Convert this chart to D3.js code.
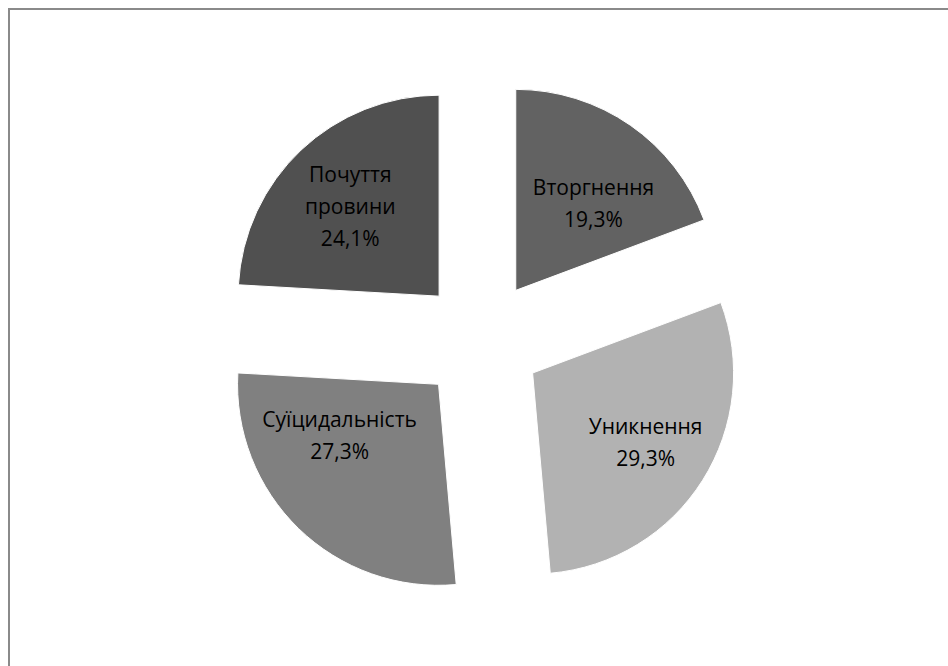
<!DOCTYPE html>
<html>
<head>
<meta charset="utf-8">
<script src="https://cdn.jsdelivr.net/npm/d3@7"></script>
<style>
html,body{margin:0;padding:0;background:#fff;}
svg{display:block;}
</style>
</head>
<body>
<svg id="chart" width="948" height="666"></svg>
<script>
const categories = ["Вторгнення", "Уникнення", "Суїцидальність", "Почуття провини"];
const labelLines = [["Вторгнення"], ["Уникнення"], ["Суїцидальність"], ["Почуття", "провини"]];
const values = [19.3, 29.3, 27.3, 24.1];
const colors = ["#626262", "#b2b2b2", "#808080", "#505050"];

const svg = d3.select("#chart");
const W = 948, H = 666;

// chart frame (only top and left edges fall inside the view)
svg.append("path")
  .attr("d", `M9,${H+5} L9,9 L${W+5},9`)
  .attr("fill", "none")
  .attr("stroke", "#8a8a8a")
  .attr("stroke-width", 2);

const cx = 481, cy = 340.5, R = 201, explode = 61;

const pie = d3.pie().sort(null).value(d => d);
const arcs = pie(values);
const arc = d3.arc().innerRadius(0).outerRadius(R);
const labelArc = d3.arc().innerRadius(R * 0.6).outerRadius(R * 0.6);
// best-fit adjustment of label placement inside each slice (layout, not data)
const labelNudge = [[9, 13], [11, 6], [-15, -35], [-6, -2]];

const g = svg.append("g").attr("transform", `translate(${cx},${cy})`);

const slices = g.selectAll("g.slice").data(arcs).enter().append("g")
  .attr("class", "slice")
  .attr("transform", d => {
    const a = (d.startAngle + d.endAngle) / 2;
    return `translate(${explode * Math.sin(a)},${-explode * Math.cos(a)})`;
  });

slices.append("path")
  .attr("d", arc)
  .attr("fill", (d, i) => colors[i])
  .attr("stroke", "#ffffff")
  .attr("stroke-width", 1);

const fmt = v => v.toFixed(1).replace(".", ",") + "%";
const lineH = 32;

slices.each(function(d, i) {
  const c = labelArc.centroid(d);
  const lx = c[0] + labelNudge[i][0], ly = c[1] + labelNudge[i][1];
  const lines = labelLines[i].concat([fmt(values[i])]);
  const n = lines.length;
  const t = d3.select(this).append("text")
    .attr("text-anchor", "middle")
    .attr("font-family", "'Open Sans', 'Noto Sans', sans-serif")
    .attr("font-size", 21)
    .attr("fill", "#000");
  lines.forEach((s, k) => {
    t.append("tspan")
      .attr("x", lx)
      .attr("y", ly + (k - (n - 1) / 2) * lineH + 7)
      .text(s);
  });
});
</script>
</body>
</html>
